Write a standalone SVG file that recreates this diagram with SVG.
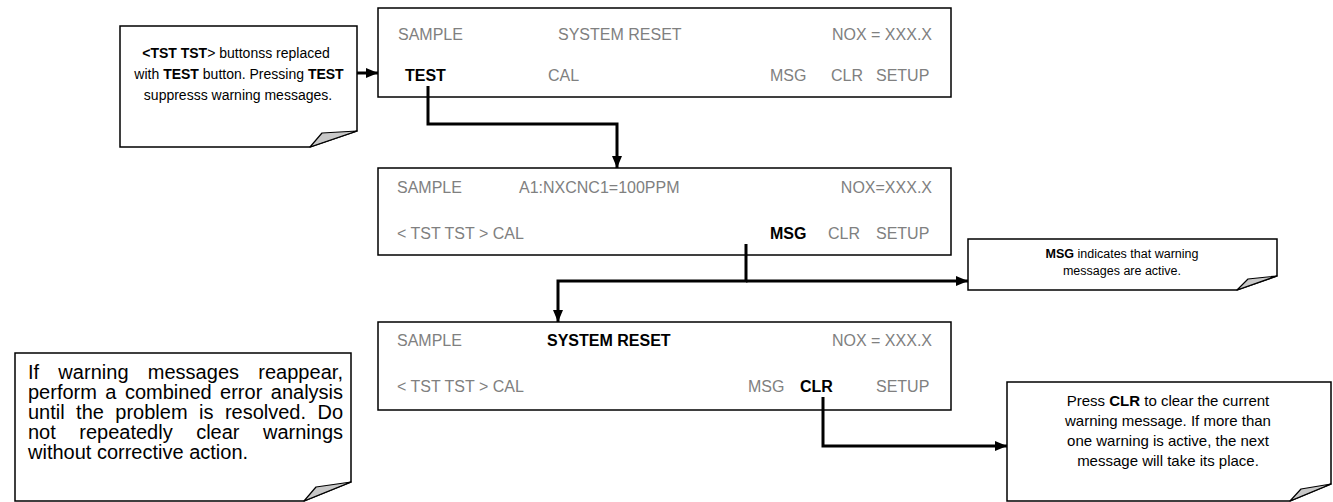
<svg xmlns="http://www.w3.org/2000/svg" width="1333" height="502" viewBox="0 0 1333 502">
<style>
.scr{fill:#fff;stroke:#000;stroke-width:1.5}
.note{fill:#fff;stroke:#000;stroke-width:1.5}
.fold{fill:#c8c8c8;stroke:#000;stroke-width:1.2;stroke-linejoin:round}
.t{font-family:"Liberation Sans",Arial,sans-serif;font-size:16px;fill:#808080}
.tb{font-family:"Liberation Sans",Arial,sans-serif;font-size:16px;fill:#000;font-weight:bold}
.n{font-family:"Liberation Sans",Arial,sans-serif;font-size:14px;fill:#000}
.ns{font-family:"Liberation Sans",Arial,sans-serif;font-size:12.5px;fill:#000}
.nm{font-family:"Liberation Sans",Arial,sans-serif;font-size:15px;fill:#000}
.nl{font-family:"Liberation Sans",Arial,sans-serif;font-size:20px;fill:#000}
.b{font-weight:bold}
.c{fill:none;stroke:#000;stroke-width:3}
</style>
<defs>
<marker id="ah" markerUnits="userSpaceOnUse" markerWidth="12" markerHeight="12" viewBox="0 0 12 12" refX="12" refY="6" orient="auto">
<path d="M0,1 L12,6 L0,11 Z" fill="#000"/>
</marker>
</defs>

<g id="note-tst">
<path class="note" d="M120,26 H357 V131 L310,147 H120 Z"/>
<path class="fold" d="M310,147 L322,133 L357,131 Z"/>
<text class="n" x="236" y="58" text-anchor="middle"><tspan class="b">&lt;TST  TST</tspan>&gt; buttonss replaced</text>
<text class="n" x="239" y="79" text-anchor="middle">with <tspan class="b">TEST</tspan> button. Pressing <tspan class="b">TEST</tspan></text>
<text class="n" x="238" y="100" text-anchor="middle">suppresss warning messages.</text>
</g>

<g id="screen1">
<rect class="scr" x="378" y="8" width="573" height="89"/>
<text class="t" x="398" y="40">SAMPLE</text>
<text class="t" x="558" y="40">SYSTEM RESET</text>
<text class="t" x="932" y="40" text-anchor="end">NOX = XXX.X</text>
<text class="tb" x="405" y="81">TEST</text>
<text class="t" x="548" y="81">CAL</text>
<text class="t" x="770" y="81">MSG</text>
<text class="t" x="831" y="81">CLR</text>
<text class="t" x="876" y="81">SETUP</text>
</g>

<g id="screen2">
<rect class="scr" x="378" y="168" width="573" height="87"/>
<text class="t" x="397" y="193">SAMPLE</text>
<text class="t" x="519" y="193">A1:NXCNC1=100PPM</text>
<text class="t" x="932" y="193" text-anchor="end">NOX=XXX.X</text>
<text class="t" x="397" y="239">&lt; TST  TST &gt; CAL</text>
<text class="tb" x="770" y="239">MSG</text>
<text class="t" x="828" y="239">CLR</text>
<text class="t" x="876" y="239">SETUP</text>
</g>

<g id="screen3">
<rect class="scr" x="378" y="322" width="573" height="88"/>
<text class="t" x="397" y="346">SAMPLE</text>
<text class="tb" x="547" y="346">SYSTEM RESET</text>
<text class="t" x="932" y="346" text-anchor="end">NOX = XXX.X</text>
<text class="t" x="397" y="392">&lt; TST  TST &gt; CAL</text>
<text class="t" x="748" y="392">MSG</text>
<text class="tb" x="800" y="392">CLR</text>
<text class="t" x="876" y="392">SETUP</text>
</g>

<g id="note-msg">
<path class="note" d="M968,239 H1277 V276 L1237,290 H968 Z"/>
<path class="fold" d="M1237,290 L1248,279 L1277,276 Z"/>
<text class="ns" x="1122" y="258" text-anchor="middle"><tspan class="b">MSG</tspan> indicates that warning</text>
<text class="ns" x="1122" y="275" text-anchor="middle">messages are active.</text>
</g>

<g id="note-warn">
<path class="note" d="M15,353 H351 V482 L304,501 H15 Z"/>
<path class="fold" d="M304,501 L316,487 L351,482 Z"/>
<text class="nl" x="28" y="379" word-spacing="13.5" textLength="315" lengthAdjust="spacing">If warning messages reappear,</text>
<text class="nl" x="28" y="399" word-spacing="2.9" textLength="315" lengthAdjust="spacing">perform a combined error analysis</text>
<text class="nl" x="28" y="419" word-spacing="5.9" textLength="315" lengthAdjust="spacing">until the problem is resolved. Do</text>
<text class="nl" x="28" y="439" word-spacing="17.9" textLength="315" lengthAdjust="spacing">not repeatedly clear warnings</text>
<text class="nl" x="28" y="459">without corrective action.</text>
</g>

<g id="note-clr">
<path class="note" d="M1007,382 H1331 V484 L1290,501 H1007 Z"/>
<path class="fold" d="M1290,501 L1301,489 L1331,484 Z"/>
<text class="nm" x="1168" y="406" text-anchor="middle">Press <tspan class="b">CLR</tspan> to clear the current</text>
<text class="nm" x="1168" y="426" text-anchor="middle">warning message. If more than</text>
<text class="nm" x="1168" y="446" text-anchor="middle">one warning is active, the next</text>
<text class="nm" x="1168" y="466" text-anchor="middle">message will take its place.</text>
</g>

<g id="connectors">
<path class="c" d="M357,73 H378" marker-end="url(#ah)"/>
<path class="c" d="M428,86 V124 H617 V168" marker-end="url(#ah)"/>
<path class="c" d="M746,244 V281 H558 V322" marker-end="url(#ah)"/>
<path class="c" d="M746,281 H968" marker-end="url(#ah)"/>
<path class="c" d="M823,397 V446 H1007" marker-end="url(#ah)"/>
</g>
</svg>
